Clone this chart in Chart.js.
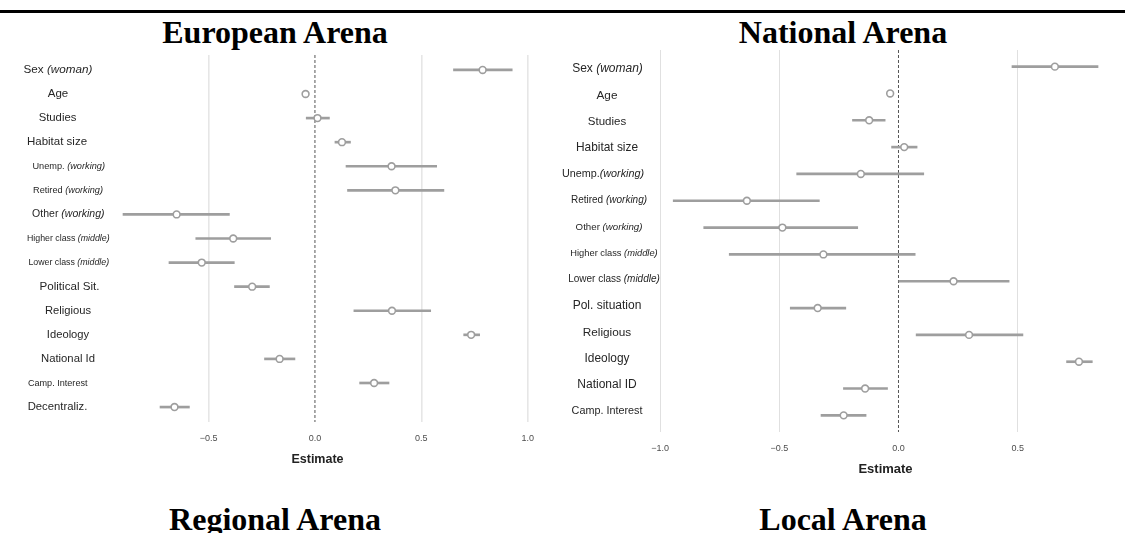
<!DOCTYPE html>
<html>
<head>
<meta charset="utf-8">
<script src="https://cdn.jsdelivr.net/npm/chart.js@4.4.1/dist/chart.umd.min.js"></script>
<style>
  html, body { margin: 0; padding: 0; background: #fff; }
  body { width: 1125px; height: 533px; position: relative; overflow: hidden; }
  .rule { position: absolute; left: 0; top: 10px; width: 1125px; height: 3px; background: #000; }
  .arena {
    position: absolute; width: 400px; text-align: center;
    font-family: "Liberation Serif", "Times New Roman", serif;
    font-weight: bold; font-size: 32px; line-height: 32px; color: #000;
  }
  canvas { position: absolute; top: 0; }
</style>
</head>
<body>
<div class="rule"></div>
<div class="arena" style="left:75px; top:16px;">European Arena</div>
<div class="arena" style="left:643px; top:16px;">National Arena</div>
<div class="arena" style="left:75px; top:503px;">Regional Arena</div>
<div class="arena" style="left:643px; top:503px;">Local Arena</div>
<canvas id="european" width="560" height="467" style="left:0px;"></canvas>
<canvas id="national" width="565" height="477" style="left:560px;"></canvas>
<script>
// European arena
const europeanCategories = ['Sex (woman)', 'Age', 'Studies', 'Habitat size', 'Unemp. (working)',
  'Retired (working)', 'Other (working)', 'Higher class (middle)', 'Lower class (middle)',
  'Political Sit.', 'Religious', 'Ideology', 'National Id', 'Camp. Interest', 'Decentraliz.'];
const europeanEstimate = [0.788, -0.044, 0.012, 0.127, 0.36, 0.378, -0.65, -0.384, -0.532, -0.295, 0.362, 0.734, -0.166, 0.278, -0.66];
const europeanLow = [0.651, -0.052, -0.041, 0.094, 0.146, 0.153, -0.902, -0.56, -0.686, -0.378, 0.183, 0.699, -0.237, 0.21, -0.728];
const europeanHigh = [0.927, -0.036, 0.068, 0.167, 0.572, 0.606, -0.402, -0.208, -0.379, -0.214, 0.544, 0.774, -0.094, 0.348, -0.59];
const europeanTicks = [-0.5, 0, 0.5, 1.0];
const europeanTickLabels = ['\u22120.5', '0.0', '0.5', '1.0'];

// National arena
const nationalCategories = ['Sex (woman)', 'Age', 'Studies', 'Habitat size', 'Unemp.(working)',
  'Retired (working)', 'Other (working)', 'Higher class (middle)', 'Lower class (middle)',
  'Pol. situation', 'Religious', 'Ideology', 'National ID', 'Camp. Interest'];
const nationalEstimate = [0.656, -0.035, -0.123, 0.024, -0.158, -0.636, -0.487, -0.315, 0.231, -0.339, 0.296, 0.757, -0.14, -0.23];
const nationalLow = [0.476, -0.043, -0.193, -0.029, -0.427, -0.945, -0.817, -0.71, 0.0, -0.454, 0.074, 0.705, -0.231, -0.325];
const nationalHigh = [0.837, -0.027, -0.056, 0.078, 0.106, -0.332, -0.171, 0.07, 0.464, -0.221, 0.522, 0.813, -0.046, -0.136];
const nationalTicks = [-1.0, -0.5, 0, 0.5];
const nationalTickLabels = ['\u22121.0', '\u22120.5', '0.0', '0.5'];

// label look per row: [font size, centre x inside the canvas]
const europeanLook = [[11.7, 58], [11.5, 58], [11.3, 57.5], [11.5, 57], [9.2, 68.7], [9.2, 68],
  [10.5, 68.3], [8.8, 68.3], [8.8, 68.8], [11.6, 69.5], [11.2, 68], [11.2, 68], [11.3, 68],
  [9.1, 57.7], [11.3, 57.5]];
const nationalLook = [[12, 47.5], [11.8, 47], [11.5, 47], [11.9, 47], [10.8, 43], [10, 49],
  [9.7, 49], [9.3, 54], [10, 54], [12, 47], [11.8, 47], [11.9, 47], [12, 47], [10.8, 47]];

const sans = '"Liberation Sans", Arial, Helvetica, sans-serif';

const rowLabels = {
  id: 'rowLabels',
  afterDraw(chart, args, opts) {
    const ctx = chart.ctx;
    const ys = chart.scales.y;
    ctx.save();
    ctx.fillStyle = '#262626';
    ctx.textBaseline = 'middle';
    ctx.textAlign = 'left';
    opts.labels.forEach((text, i) => {
      const [size, cx] = opts.look[i];
      const cut = text.indexOf('(');
      const plain = cut < 0 ? text : text.slice(0, cut);
      const ital = cut < 0 ? '' : text.slice(cut);
      ctx.font = size + 'px ' + sans;
      const w1 = ctx.measureText(plain).width;
      ctx.font = 'italic ' + size + 'px ' + sans;
      const w2 = ital ? ctx.measureText(ital).width : 0;
      const y = ys.getPixelForValue(opts.start + i * opts.step);
      const x = cx - (w1 + w2) / 2;
      ctx.font = size + 'px ' + sans;
      ctx.fillText(plain, x, y);
      if (ital) {
        ctx.font = 'italic ' + size + 'px ' + sans;
        ctx.fillText(ital, x + w1, y);
      }
    });
    ctx.restore();
  }
};

const zeroLine = {
  id: 'zeroLine',
  beforeDatasetsDraw(chart) {
    const ctx = chart.ctx;
    const x = chart.scales.x.getPixelForValue(0);
    const area = chart.chartArea;
    ctx.save();
    ctx.strokeStyle = '#555';
    ctx.lineWidth = 1;
    ctx.setLineDash([3, 2]);
    ctx.beginPath();
    ctx.moveTo(x, area.top);
    ctx.lineTo(x, area.bottom);
    ctx.stroke();
    ctx.restore();
  }
};

function forest(id, cats, est, low, high, ticks, tickLabels, look, panel) {
  const ctx = document.getElementById(id).getContext('2d');
  new Chart(ctx, {
    type: 'bar',
    data: {
      datasets: [{
        type: 'scatter',
        data: est.map((v, i) => ({ x: v, y: i })),
        pointRadius: 3.4,
        pointBorderWidth: 1.6,
        borderColor: '#9e9e9e',
        backgroundColor: '#ffffff',
        order: 0
      }, {
        type: 'bar',
        indexAxis: 'y',
        data: low.map((v, i) => ({ x: [v, high[i]], y: i })),
        backgroundColor: '#9e9e9e',
        barThickness: 2,
        order: 1
      }]
    },
    options: {
      responsive: false,
      animation: false,
      events: [],
      layout: { padding: panel.padding },
      plugins: {
        legend: { display: false },
        tooltip: { enabled: false },
        rowLabels: { labels: cats, look: look, start: panel.start, step: panel.step }
      },
      scales: {
        x: {
          type: 'linear',
          min: panel.min,
          max: panel.max,
          offset: false,
          beginAtZero: false,
          afterBuildTicks: s => { s.ticks = ticks.map(v => ({ value: v })); },
          afterFit: s => { s.height = 45; },
          border: { display: false },
          grid: {
            offset: false,
            color: c => (c.tick && c.tick.value === 0) ? 'rgba(0,0,0,0)' : panel.gridColor,
            lineWidth: panel.gridWidth,
            drawTicks: false
          },
          ticks: {
            padding: 11,
            maxRotation: 0,
            color: '#4d4d4d',
            font: { family: sans, size: 9 },
            callback: (v, i) => tickLabels[i]
          },
          title: {
            display: true,
            text: 'Estimate',
            color: '#222',
            padding: 0,
            font: { family: sans, size: panel.titleSize, weight: 'bold' }
          }
        },
        y: {
          type: 'linear',
          display: false,
          reverse: true,
          offset: false,
          beginAtZero: false,
          grid: { offset: false },
          min: -0.62,
          max: cats.length - 1 + 0.62
        }
      }
    },
    plugins: [rowLabels, zeroLine]
  });
}

forest('european', europeanCategories, europeanEstimate, europeanLow, europeanHigh,
  europeanTicks, europeanTickLabels, europeanLook,
  { padding: { left: 103, right: 28, top: 55, bottom: 0 }, min: -0.996, max: 1.02,
    gridColor: '#e6e6e6', gridWidth: 1.6, titleSize: 12.5, start: 0, step: 1 });

forest('national', nationalCategories, nationalEstimate, nationalLow, nationalHigh,
  nationalTicks, nationalTickLabels, nationalLook,
  { padding: { left: 92, right: 6, top: 50, bottom: 0 }, min: -1.034, max: 0.925,
    gridColor: '#e0e0e0', gridWidth: 1, titleSize: 13, start: 0.088, step: 0.9818 });
</script>
</body>
</html>
